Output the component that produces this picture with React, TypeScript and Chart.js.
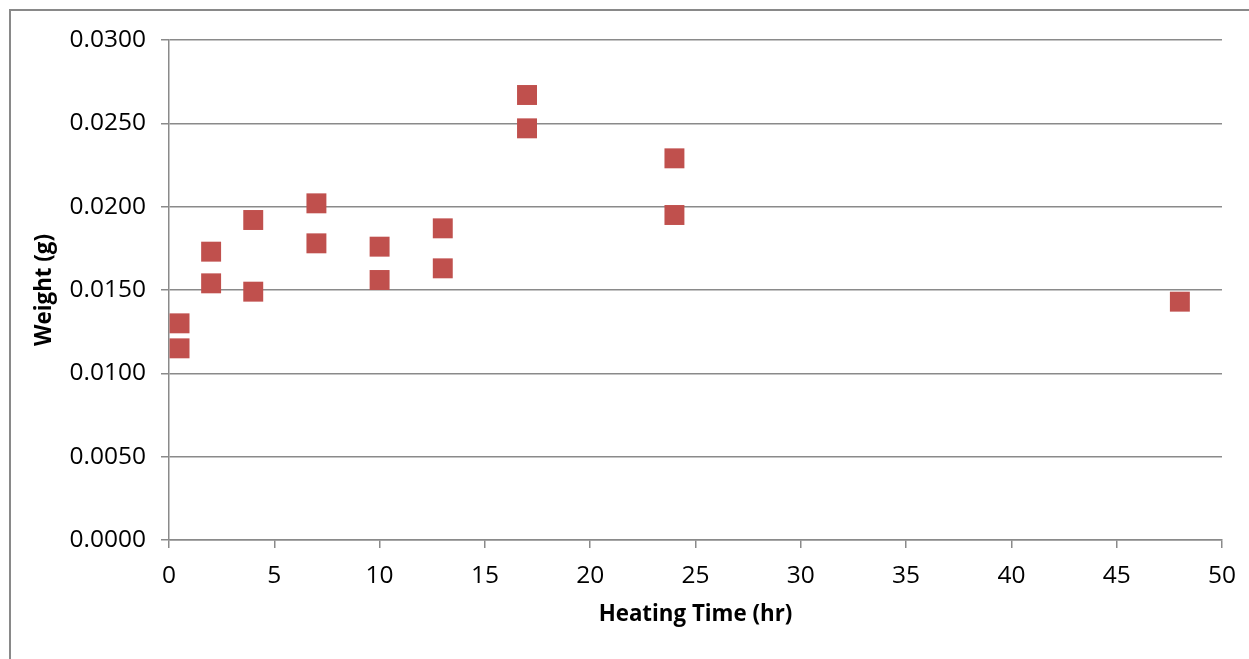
import { useEffect, useRef } from 'react'
import { Chart, registerables } from 'chart.js'
Chart.register(...registerables)

// heating time (hr) and measured weight (g)
const hours = [0.5, 0.5, 2, 2, 4, 4, 7, 7, 10, 10, 13, 13, 17, 17, 24, 24, 48]
const weights = [0.0130, 0.0115, 0.0173, 0.0154, 0.0192, 0.0149, 0.0202, 0.0178, 0.0176, 0.0156, 0.0187, 0.0163, 0.0267, 0.0247, 0.0229, 0.0195, 0.0143]
const xTicks = [0, 5, 10, 15, 20, 25, 30, 35, 40, 45, 50]
const yTicks = [0, 0.005, 0.01, 0.015, 0.02, 0.025, 0.03]

const FONT = '"Open Sans", sans-serif'
const GRID = '#8a8a8a'

export default function App() {
    const canvasRef = useRef<HTMLCanvasElement>(null)
    const chartRef = useRef<Chart | null>(null)

    useEffect(() => {
        if (!canvasRef.current) return
        const ctx = canvasRef.current.getContext('2d')!
        chartRef.current?.destroy()
        chartRef.current = new Chart(ctx, {
            type: 'scatter',
            data: {
                datasets: [{
                    label: 'Weight',
                    data: hours.map((h, i) => ({ x: h, y: weights[i] })),
                    backgroundColor: '#C0504D',
                    borderColor: '#C0504D',
                    borderWidth: 0,
                    pointStyle: 'rect',
                    pointRadius: 14.1,
                }],
            },
            options: {
                responsive: true, maintainAspectRatio: false,
                animation: false,
                events: [],
                layout: { padding: { left: 0, right: 27, top: 40, bottom: 0 } },
                plugins: { legend: { display: false }, tooltip: { enabled: false } },
                scales: {
                    x: {
                        type: 'linear', min: 0, max: 50,
                        afterBuildTicks: s => { s.ticks = xTicks.map(v => ({ value: v })) },
                        afterFit: s => { s.height = 119 },
                        grid: { drawOnChartArea: false, drawTicks: true, tickLength: 8, color: GRID, lineWidth: 1.5 },
                        border: { color: GRID, width: 1.5 },
                        ticks: { color: '#000', font: { family: FONT, size: 24.5 }, padding: 13, maxRotation: 0 },
                        title: { display: true, text: 'Heating Time (hr)', color: '#000', font: { family: FONT, size: 22.3, weight: 'bold' }, padding: { top: 4, bottom: 31 } },
                    },
                    y: {
                        type: 'linear', min: 0, max: 0.03,
                        afterBuildTicks: s => { s.ticks = yTicks.map(v => ({ value: v })) },
                        afterFit: s => { s.width = 169 },
                        grid: { color: GRID, lineWidth: 1.5, tickLength: 8 },
                        border: { color: GRID, width: 1.5 },
                        ticks: { color: '#000', font: { family: FONT, size: 24.5 }, padding: 15, callback: v => Number(v).toFixed(4) },
                        title: { display: true, text: 'Weight (g)', color: '#000', font: { family: FONT, size: 22.3, weight: 'bold' }, padding: { top: 31 } },
                    },
                },
            },
        })
        return () => chartRef.current?.destroy()
    }, [])

    return (
        <div style={{ position: 'absolute', left: 0, top: 0, width: 1249, height: 659, background: 'white', overflow: 'hidden' }}>
            <div style={{ position: 'absolute', left: 9, top: 9, width: 1260, height: 680, border: '2px solid #898989' }} />
            <div style={{ position: 'absolute', left: 0, top: 0, width: 1249, height: 659 }}>
                <canvas ref={canvasRef} />
            </div>
        </div>
    )
}
